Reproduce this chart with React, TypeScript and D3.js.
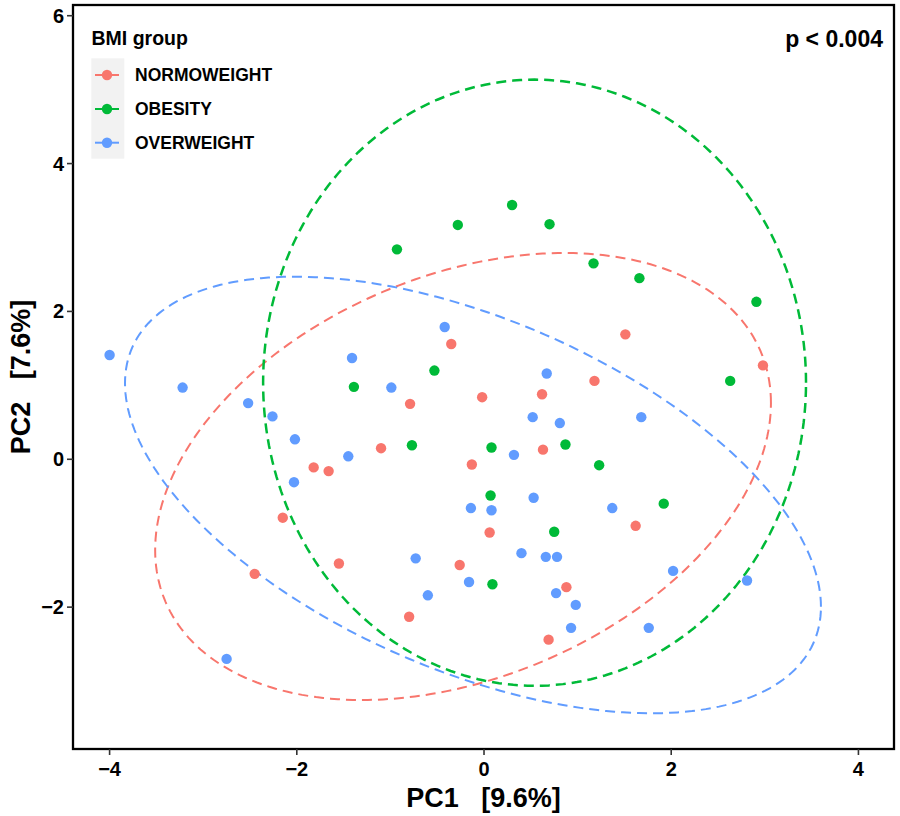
import React from 'react';
import * as d3 from 'd3';

// BMI groups, in legend order
const groups = ['NORMOWEIGHT', 'OBESITY', 'OVERWEIGHT'];
const groupColors = ['#F8766D', '#00BA38', '#619CFF'];

// PCA scores (PC1, PC2)
const normoPC1 = [-0.79, -0.35, -1.10, -1.82, -1.66, -2.15, 1.51, 2.98, 1.18, -0.02, 0.62, 0.63, -0.13, 1.62, 0.06, -2.45, -1.55, 0.88, -0.26, -0.80, 0.69];
const normoPC2 = [0.75, 1.56, 0.15, -0.11, -0.16, -0.79, 1.69, 1.27, 1.06, 0.84, 0.88, 0.13, -0.07, -0.90, -0.99, -1.55, -1.41, -1.73, -1.43, -2.13, -2.44];

const obesityPC1 = [-1.39, -0.53, -0.77, 2.63, 0.08, 0.87, 1.23, 0.07, 1.92, 0.75, -0.93, -0.28, 0.30, 0.70, 1.17, 1.66, 2.91, 0.09];
const obesityPC2 = [0.98, 1.20, 0.19, 1.06, 0.16, 0.20, -0.08, -0.49, -0.60, -0.98, 2.84, 3.17, 3.44, 3.18, 2.65, 2.45, 2.13, -1.69];

const overPC1 = [-4.00, -3.22, -2.52, -2.26, -1.41, -0.99, -0.42, -2.02, -1.45, -2.03, -2.75, 0.67, 0.52, 0.81, 1.68, 0.32, -0.14, 0.08, 0.53, 1.37, 0.40, -0.73, -0.60, -0.16, 0.66, 0.78, 0.77, 0.98, 0.93, 1.76, 2.02, 2.81];
const overPC2 = [1.41, 0.97, 0.76, 0.58, 1.37, 0.97, 1.79, 0.27, 0.04, -0.31, -2.70, 1.16, 0.57, 0.49, 0.57, 0.06, -0.66, -0.69, -0.52, -0.66, -1.27, -1.34, -1.84, -1.66, -1.32, -1.32, -1.81, -1.97, -2.28, -2.28, -1.51, -1.64];

// 95% ellipses per group: centre and covariance-style shape (PC1 var, PC2 var, covariance)
const ellipseCX = [-0.224, 0.54, -0.118];
const ellipseCY = [-0.233, 1.036, -0.483];
const ellipseVarX = [10.82, 8.41, 13.82];
const ellipseVarY = [9.14, 16.81, 8.72];
const ellipseCov = [3.27, 0, -5.62];

const xTicks = [-4, -2, 0, 2, 4];
const yTicks = [-2, 0, 2, 4, 6];

const pcX = [normoPC1, obesityPC1, overPC1];
const pcY = [normoPC2, obesityPC2, overPC2];

const W = 900;
const H = 816;
const panel = { left: 73, right: 894, top: 5, bottom: 749 };
const font = '"Liberation Sans", Arial, Helvetica, sans-serif';

const fmt = (v: number) => (v < 0 ? '\u2212' + Math.abs(v) : String(v));

export default function App() {
  const x = d3.scaleLinear().domain([-4.391, 4.38]).range([panel.left, panel.right]);
  const y = d3.scaleLinear().domain([-3.919, 6.145]).range([panel.bottom, panel.top]);

  const line = d3
    .line<[number, number]>()
    .x(d => x(d[0]))
    .y(d => y(d[1]))
    .curve(d3.curveLinearClosed);

  const ellipsePath = (g: number) => {
    const l11 = Math.sqrt(ellipseVarX[g]);
    const l21 = ellipseCov[g] / l11;
    const l22 = Math.sqrt(ellipseVarY[g] - l21 * l21);
    const pts: [number, number][] = d3.range(0, 240).map(i => {
      const t = (i / 240) * Math.PI * 2;
      return [ellipseCX[g] + l11 * Math.cos(t), ellipseCY[g] + l21 * Math.cos(t) + l22 * Math.sin(t)];
    });
    return line(pts) || '';
  };

  const legendKeyY = [75, 109, 142.7];

  return (
    <svg
      width={W}
      height={H}
      style={{ position: 'absolute', left: 0, top: 0, display: 'block', background: '#fff' }}
      fontFamily={font}
      fontWeight="bold"
    >
      <rect x={0} y={0} width={W} height={H} fill="#fff" />

      {/* ellipses */}
      {groups.map((g, i) => (
        <path
          key={g}
          d={ellipsePath(i)}
          fill="none"
          stroke={groupColors[i]}
          strokeWidth={i === 1 ? 2.5 : 2}
          strokeDasharray="10 6"
        />
      ))}

      {/* points */}
      {groups.map((g, i) => (
        <g key={g}>
          {pcX[i].map((v, j) => (
            <circle key={j} cx={x(v)} cy={y(pcY[i][j])} r={5.2} fill={groupColors[i]} />
          ))}
        </g>
      ))}

      {/* panel border */}
      <rect
        x={panel.left}
        y={panel.top}
        width={panel.right - panel.left}
        height={panel.bottom - panel.top}
        fill="none"
        stroke="#000"
        strokeWidth={2.3}
      />

      {/* x axis */}
      {xTicks.map(t => (
        <g key={t}>
          <line x1={x(t)} x2={x(t)} y1={panel.bottom} y2={panel.bottom + 6} stroke="#333" strokeWidth={1.6} />
          <text x={x(t)} y={769} textAnchor="middle" dominantBaseline="central" fontSize={20} fill="#000">
            {fmt(t)}
          </text>
        </g>
      ))}

      {/* y axis */}
      {yTicks.map(t => (
        <g key={t}>
          <line x1={panel.left - 6} x2={panel.left} y1={y(t)} y2={y(t)} stroke="#333" strokeWidth={1.6} />
          <text x={64} y={y(t)} textAnchor="end" dominantBaseline="central" fontSize={20} fill="#000">
            {fmt(t)}
          </text>
        </g>
      ))}

      {/* axis titles */}
      <text x={(panel.left + panel.right) / 2} y={807} textAnchor="middle" fontSize={27} fill="#000" style={{ whiteSpace: 'pre' }}>
        {'PC1   [9.6%]'}
      </text>
      <text
        transform={`translate(29.5,${(panel.top + panel.bottom) / 2}) rotate(-90)`}
        textAnchor="middle"
        fontSize={27}
        fill="#000"
        style={{ whiteSpace: 'pre' }}
      >
        {'PC2   [7.6%]'}
      </text>

      {/* p value */}
      <text x={883} y={46.5} textAnchor="end" fontSize={23} fill="#000">
        p &lt; 0.004
      </text>

      {/* legend */}
      <text x={91.5} y={45} fontSize={19.5} fill="#000">
        BMI group
      </text>
      <rect x={91.3} y={58.3} width={33} height={100.4} fill="#F2F2F2" />
      {groups.map((g, i) => (
        <g key={g}>
          <line x1={95} x2={119} y1={legendKeyY[i]} y2={legendKeyY[i]} stroke={groupColors[i]} strokeWidth={2} />
          <circle cx={107} cy={legendKeyY[i]} r={5.2} fill={groupColors[i]} />
          <text x={135} y={legendKeyY[i]} dominantBaseline="central" fontSize={17.5} fill="#000">
            {g}
          </text>
        </g>
      ))}
    </svg>
  );
}
